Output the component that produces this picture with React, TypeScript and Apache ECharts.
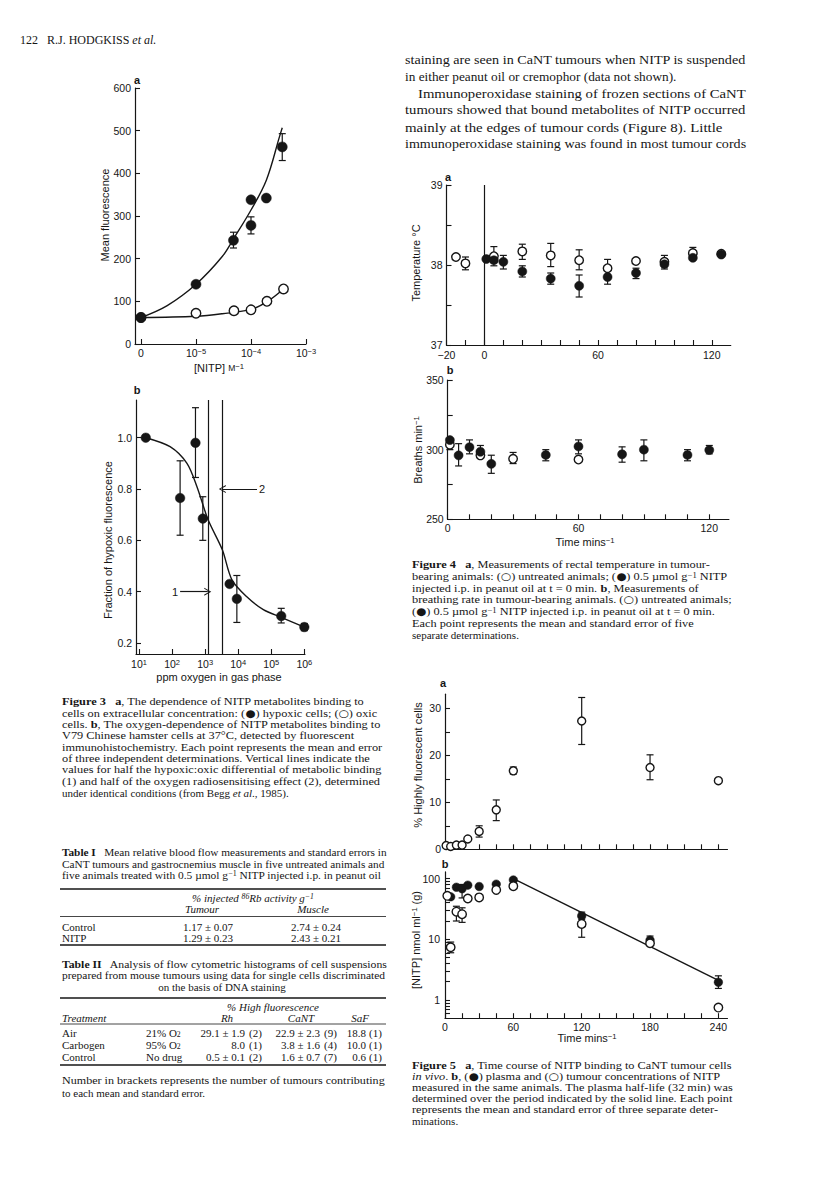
import React, { useEffect, useRef } from 'react';
import * as echarts from 'echarts';

const SERIF = '"Liberation Serif", "Times New Roman", Times, serif';
const SANS = '"Liberation Sans", Arial, Helvetica, sans-serif';
const INK = '#161616';

// ---------------- Figure 3a : mean fluorescence vs [NITP] ----------------
const f3aXTickConc = [0, 1e-5, 1e-4, 1e-3];
const f3aXTickLabels = ['0', '10{s|−5}', '10{s|−4}', '10{s|−3}'];
const f3aYTicks = [0, 100, 200, 300, 400, 500, 600];
const f3aHypoxicConc = [0, 1e-5, 4.8e-5, 1e-4, 1e-4, 1.9e-4, 3.7e-4];
const f3aHypoxicFluor = [62, 140, 243, 278, 338, 342, 462];
const f3aHypoxicErrLow = [null, null, 225, 258, null, null, 430];
const f3aHypoxicErrHigh = [null, null, 262, 298, null, null, 493];
const f3aOxicConc = [0, 1e-5, 4.9e-5, 1e-4, 1.95e-4, 3.9e-4];
const f3aOxicFluor = [62, 72, 78, 80, 100, 129];
const f3aHypoxicFitConc = [0, 3e-6, 1e-5, 3e-5, 5e-5, 1e-4, 1.9e-4, 3.3e-4, 3.7e-4];
const f3aHypoxicFitFluor = [62, 90, 140, 205, 250, 314, 384, 486, 507];
const f3aOxicFitConc = [0, 1e-5, 3e-5, 1e-4, 2e-4, 3.9e-4];
const f3aOxicFitFluor = [62, 65, 71, 81, 100, 129];

// ---------------- Figure 3b : fraction of hypoxic fluorescence vs ppm O2 ----------------
const f3bXTickPpm = [10, 100, 1e3, 1e4, 1e5, 1e6];
const f3bXTickLabels = ['10{s|1}', '10{s|2}', '10{s|3}', '10{s|4}', '10{s|5}', '10{s|6}'];
const f3bYTicks = [0.2, 0.4, 0.6, 0.8, 1.0];
const f3bPpm = [16, 175, 510, 850, 5500, 9100, 2.0e5, 1.0e6];
const f3bFrac = [1.0, 0.765, 0.98, 0.685, 0.43, 0.372, 0.305, 0.262];
const f3bErrLow = [null, 0.62, 0.845, 0.6, null, 0.28, 0.278, 0.248];
const f3bErrHigh = [null, 0.91, 1.117, 0.77, null, 0.463, 0.335, 0.276];
const f3bFitPpm = [16, 87, 282, 562, 1230, 3311, 6457, 18200, 57544, 2.0e5, 1.0e6];
const f3bFitFrac = [1.0, 0.965, 0.9, 0.81, 0.68, 0.563, 0.446, 0.38, 0.33, 0.3, 0.262];
const f3bHalfLinesPpm = [1200, 3311];
const f3bArrow1Ppm = [175, 1200];
const f3bArrow1Frac = 0.4;
const f3bArrow2Ppm = [37000, 3311];
const f3bArrow2Frac = 0.8;

// ---------------- Figure 4a : rectal temperature ----------------
const f4aXTicks = [-20, -10, 0, 10, 20, 30, 40, 50, 60, 70, 80, 90, 100, 110, 120];
const f4aXLabels = [-20, 0, 60, 120];
const f4aYTicks = [37, 37.5, 38, 38.5, 39];
const f4aYLabels = [37, 38, 39];
const f4aOpenT = [-15, -10, 5, 20, 35, 50, 65, 80, 95, 110, 125];
const f4aOpenTemp = [38.1, 38.02, 38.11, 38.17, 38.12, 38.06, 37.96, 38.05, 38.04, 38.15, 38.14];
const f4aOpenLow = [null, 37.94, 38.03, 38.07, 37.98, 37.94, 37.85, null, 37.98, 38.08, null];
const f4aOpenHigh = [null, 38.1, 38.23, 38.26, 38.27, 38.19, 38.07, null, 38.12, 38.22, null];
const f4aFilledT = [1, 5, 10, 20, 35, 50, 65, 80, 95, 110, 125];
const f4aFilledTemp = [38.075, 38.06, 38.04, 37.92, 37.83, 37.74, 37.85, 37.9, 38.01, 38.09, 38.13];
const f4aFilledLow = [null, 37.99, 37.95, 37.85, 37.76, 37.6, 37.76, 37.83, 37.95, null, null];
const f4aFilledHigh = [null, 38.13, 38.12, 37.99, 37.9, 37.875, 37.94, 37.96, 38.08, null, null];

// ---------------- Figure 4b : breathing rate ----------------
const f4bXTicks = [0, 10, 20, 30, 40, 50, 60, 70, 80, 90, 100, 110, 120];
const f4bXLabels = [0, 60, 120];
const f4bYTicks = [250, 275, 300, 325, 350];
const f4bYLabels = [250, 300, 350];
const f4bFilledT = [1, 5, 10, 15, 20, 45, 60, 80, 90, 110, 120];
const f4bFilledRate = [306.9, 295.9, 301.8, 298.5, 289.8, 296.2, 302.3, 296.7, 300, 296.2, 299.7];
const f4bFilledLow = [null, 288.3, 297, 294, 283, 292, 297, 291, 292, 292, 297];
const f4bFilledHigh = [null, 304.3, 307, 303, 296, 300, 307, 302, 307, 300, 303];
const f4bOpenT = [1, 15, 30, 60];
const f4bOpenRate = [303.6, 295.9, 293.4, 292.9];
const f4bOpenLow = [300, null, 290, null];
const f4bOpenHigh = [307, null, 298, null];

// ---------------- Figure 5a : % highly fluorescent cells ----------------
const f5XTicks = [0, 15, 30, 45, 60, 75, 90, 105, 120, 135, 150, 165, 180, 195, 210, 225, 240];
const f5XLabels = [0, 60, 120, 180, 240];
const f5aYTicks = [0, 5, 10, 15, 20, 25, 30];
const f5aYLabels = [0, 10, 20, 30];
const f5aT = [1, 5, 10, 15, 20, 30, 45, 60, 120, 180, 240];
const f5aPct = [0.8, 0.6, 0.9, 0.9, 2.2, 3.8, 8.4, 16.7, 27.3, 17.4, 14.6];
const f5aLow = [null, null, null, null, null, 2.6, 6.1, 16.0, 22.3, 14.8, null];
const f5aHigh = [null, null, null, null, null, 5.0, 10.5, 17.5, 32.3, 20.1, null];

// ---------------- Figure 5b : [NITP] plasma / tumour ----------------
const f5bYTickVals = [0.5, 0.6, 0.7, 0.8, 0.9, 1, 2, 3, 4, 5, 6, 7, 8, 9, 10, 20, 30, 40, 50, 60, 70, 80, 90, 100];
const f5bYLabels = [1, 10, 100];
const f5bPlasmaT = [5, 10, 15, 20, 30, 45, 60, 120, 180, 240];
const f5bPlasma = [50, 72, 68, 78, 74, 81, 95, 24.2, 9.7, 1.96];
const f5bPlasmaLow = [null, null, 48, null, null, null, null, 21, 8.7, 1.55];
const f5bPlasmaHigh = [null, null, 80, null, null, null, null, 28, 11.3, 2.5];
const f5bTumourT = [2, 5, 10, 15, 20, 30, 45, 60, 120, 180, 240];
const f5bTumour = [52, 7.4, 28.5, 25.9, 47, 49, 65, 75, 17.9, 8.6, 0.75];
const f5bTumourLow = [null, 6, 20, 19, null, null, null, null, 10.8, null, null];
const f5bTumourHigh = [null, 9, 35, 33, null, null, null, null, 25, null, null];
const f5bFitT = [60, 240];
const f5bFitConc = [100, 2.1];

// ---------------- Page texts ----------------
const headerPage = '122';
const headerAuthors = 'R.J. HODGKISS {i|et al.}';
const paraLines = [
  'staining are seen in CaNT tumours when NITP is suspended',
  'in either peanut oil or cremophor (data not shown).',
  'Immunoperoxidase staining of frozen sections of CaNT',
  'tumours showed that bound metabolites of NITP occurred',
  'mainly at the edges of tumour cords (Figure 8). Little',
  'immunoperoxidase staining was found in most tumour cords',
];
const fig3Caption = [
  '{b|Figure 3}   {b|a}, The dependence of NITP metabolites binding to',
  'cells on extracellular concentration: ({sym|●}) hypoxic cells; ({sym|○}) oxic',
  'cells. {b|b}, The oxygen-dependence of NITP metabolites binding to',
  'V79 Chinese hamster cells at 37°C, detected by fluorescent',
  'immunohistochemistry. Each point represents the mean and error',
  'of three independent determinations. Vertical lines indicate the',
  'values for half the hypoxic:oxic differential of metabolic binding',
  '(1) and half of the oxygen radiosensitising effect (2), determined',
  'under identical conditions (from Begg {i|et al}., 1985).',
];
const table1Title = [
  '{b|Table I}   Mean relative blood flow measurements and standard errors in',
  'CaNT tumours and gastrocnemius muscle in five untreated animals and',
  'five animals treated with 0.5 µmol g{sup|−1} NITP injected i.p. in peanut oil',
];
const table1Header = '{i|% injected }{isup|86}{i|Rb activity g}{isup|−1}';
const table1Cols = ['Tumour', 'Muscle'];
const table1Rows = [
  ['Control', '1.17 ± 0.07', '2.74 ± 0.24'],
  ['NITP', '1.29 ± 0.23', '2.43 ± 0.21'],
];
const table2Title = [
  '{b|Table II}   Analysis of flow cytometric histograms of cell suspensions',
  'prepared from mouse tumours using data for single cells discriminated',
  'on the basis of DNA staining',
];
const table2Header = '% High fluorescence';
const table2Cols = ['Treatment', 'Rh', 'CaNT', 'SaF'];
const table2Rows = [
  ['Air', '21% O{sub|2}', '29.1 ± 1.9', '(2)', '22.9 ± 2.3', '(9)', '18.8', '(1)'],
  ['Carbogen', '95% O{sub|2}', '8.0', '(1)', '3.8 ± 1.6', '(4)', '10.0', '(1)'],
  ['Control', 'No drug', '0.5 ± 0.1', '(2)', '1.6 ± 0.7', '(7)', '0.6', '(1)'],
];
const table2Note = [
  'Number in brackets represents the number of tumours contributing',
  'to each mean and standard error.',
];
const fig4Caption = [
  '{b|Figure 4}   {b|a}, Measurements of rectal temperature in tumour-',
  'bearing animals: ({sym|○}) untreated animals; ({sym|●}) 0.5 µmol g{sup|−1} NITP',
  'injected i.p. in peanut oil at t = 0 min. {b|b}, Measurements of',
  'breathing rate in tumour-bearing animals. ({sym|○}) untreated animals;',
  '({sym|●}) 0.5 µmol g{sup|−1} NITP injected i.p. in peanut oil at t = 0 min.',
  'Each point represents the mean and standard error of five',
  'separate determinations.',
];
const fig5Caption = [
  '{b|Figure 5}   {b|a}, Time course of NITP binding to CaNT tumour cells',
  '{i|in vivo}. {b|b}, ({sym|●}) plasma and ({sym|○}) tumour concentrations of NITP',
  'measured in the same animals. The plasma half-life (32 min) was',
  'determined over the period indicated by the solid line. Each point',
  'represents the mean and standard error of three separate deter-',
  'minations.',
];

// ---------------- helpers ----------------
const lg = (v: number) => Math.log10(v);
const pos3a = (c: number) => (c <= 0 ? 0 : Math.log10(c) + 6);
const ident = (v: number) => v;
function zip(xs: number[], ys: number[], fx = ident, fy = ident) {
  return xs.map((x, i) => [fx(x), fy(ys[i])]);
}
function errData(xs: number[], lo: (number | null)[], hi: (number | null)[], fx = ident, fy = ident) {
  const out: number[][] = [];
  xs.forEach((x, i) => {
    if (lo[i] != null && hi[i] != null) out.push([fx(x), fy(lo[i] as number), fy(hi[i] as number)]);
  });
  return out;
}

let measureCtx: CanvasRenderingContext2D | null = null;
function measure(text: string, size: number, family: string, weight = 'normal') {
  if (!measureCtx) measureCtx = document.createElement('canvas').getContext('2d');
  if (!measureCtx) return 0;
  measureCtx.font = `${weight} ${size}px ${family}`;
  return measureCtx.measureText(text).width;
}
const plain = (s: string) => s.replace(/\{(\w+)\|([^}]*)\}/g, '$2');

function richFor(size: number, family = SERIF) {
  return {
    b: { fontFamily: family, fontSize: size, fontWeight: 'bold', fill: INK },
    i: { fontFamily: family, fontSize: size, fontStyle: 'italic', fill: INK },
    sup: { fontFamily: family, fontSize: size * 0.7, verticalAlign: 'top', fill: INK },
    isup: { fontFamily: family, fontSize: size * 0.7, fontStyle: 'italic', verticalAlign: 'top', fill: INK },
    sub: { fontFamily: family, fontSize: size * 0.7, verticalAlign: 'bottom', fill: INK },
    sym: { fontFamily: '"DejaVu Sans", sans-serif', fontSize: size * 0.95, fill: INK },
    sc: { fontFamily: SANS, fontSize: size * 0.78, fill: INK },
  };
}

type TOpts = {
  size?: number;
  family?: string;
  align?: 'left' | 'center' | 'right';
  weight?: string;
  italic?: boolean;
  justify?: number;
  rotate?: boolean;
};
function T(x: number, y: number, text: string, o: TOpts = {}) {
  const size = o.size ?? 11;
  const family = o.family ?? SERIF;
  const align = o.align ?? 'left';
  let scaleX = 1;
  if (o.justify) {
    const w = measure(plain(text), size, family, o.weight ?? 'normal');
    if (w > 0) scaleX = Math.max(0.9, Math.min(1.12, o.justify / w));
  }
  return {
    type: 'text',
    x,
    y,
    scaleX,
    rotation: o.rotate ? Math.PI / 2 : 0,
    silent: true,
    z: 50,
    style: {
      text,
      fontSize: size,
      fontFamily: family,
      fontWeight: o.weight ?? 'normal',
      fontStyle: o.italic ? 'italic' : 'normal',
      fill: INK,
      align,
      textAlign: align,
      verticalAlign: 'middle',
      textVerticalAlign: 'middle',
      rich: richFor(size, family),
    },
  };
}
function L(x1: number, y1: number, x2: number, y2: number, w = 1) {
  return { type: 'line', silent: true, z: 50, shape: { x1, y1, x2, y2 }, style: { stroke: INK, lineWidth: w } };
}

const AX_LINE = { show: true, onZero: false, lineStyle: { color: INK, width: 1.2 } };
const supRich = { s: { fontFamily: SANS, fontSize: 7.5, verticalAlign: 'top', color: INK, padding: [0, 0, 4, 0] } };
function axis(
  gridIndex: number,
  min: number,
  max: number,
  ticks: number[],
  labels: number[] | null,
  fmt?: (v: number) => string,
  margin = 4,
  tickInside = true,
) {
  return {
    type: 'value',
    gridIndex,
    min,
    max,
    axisLine: AX_LINE,
    splitLine: { show: false },
    axisTick: { show: true, inside: tickInside, length: 5, customValues: ticks, lineStyle: { color: INK, width: 1.1 } },
    axisLabel: labels
      ? {
          show: true,
          customValues: labels,
          formatter: fmt,
          color: INK,
          fontFamily: SANS,
          fontSize: 10.5,
          margin,
          rich: supRich,
        }
      : { show: false },
  };
}
const near = (a: number, b: number) => Math.abs(a - b) < 1e-6;

function errSeries(ai: number, data: number[][], cap = 3.5, z = 3) {
  return {
    type: 'custom',
    coordinateSystem: 'cartesian2d',
    xAxisIndex: ai,
    yAxisIndex: ai,
    data,
    encode: { x: 0, y: [1, 2] },
    z,
    silent: true,
    clip: false,
    renderItem: (_p: any, api: any) => {
      const x = api.value(0);
      const a = api.coord([x, api.value(1)]);
      const b = api.coord([x, api.value(2)]);
      const st = { stroke: INK, lineWidth: 1.2 };
      return {
        type: 'group',
        children: [
          { type: 'line', shape: { x1: a[0], y1: a[1], x2: b[0], y2: b[1] }, style: st },
          { type: 'line', shape: { x1: a[0] - cap, y1: a[1], x2: a[0] + cap, y2: a[1] }, style: st },
          { type: 'line', shape: { x1: b[0] - cap, y1: b[1], x2: b[0] + cap, y2: b[1] }, style: st },
        ],
      };
    },
  };
}
function dots(ai: number, data: number[][], filled: boolean, size: number, z: number, extra: any = {}) {
  return {
    type: 'scatter',
    xAxisIndex: ai,
    yAxisIndex: ai,
    data,
    symbol: 'circle',
    symbolSize: size,
    clip: false,
    silent: true,
    z,
    itemStyle: filled
      ? { color: INK, borderColor: INK, borderWidth: 0.5, opacity: 1 }
      : { color: '#ffffff', borderColor: INK, borderWidth: 1.4, opacity: 1 },
    ...extra,
  };
}
function curve(ai: number, data: number[][], smooth: boolean | number, z = 2, extra: any = {}) {
  return {
    type: 'line',
    xAxisIndex: ai,
    yAxisIndex: ai,
    data,
    smooth,
    showSymbol: false,
    symbol: 'none',
    silent: true,
    z,
    lineStyle: { color: INK, width: 1.4 },
    ...extra,
  };
}

const CHEVRON = 'path://M0,10 L5,0 L10,10 L8.6,10 L5,2.6 L1.4,10 Z';

function buildOption() {
  const grid = [
    { left: 135, top: 88, width: 171, height: 256 }, // 3a
    { left: 136, top: 400, width: 169, height: 254 }, // 3b
    { left: 446.5, top: 185, width: 284.25, height: 160 }, // 4a
    { left: 447.7, top: 380, width: 281.2, height: 139.3 }, // 4b
    { left: 445, top: 694.2, width: 282.5, height: 155.1 }, // 5a
    { left: 445, top: 871.9, width: 282.5, height: 146.3 }, // 5b
  ];

  const f3aXPos = f3aXTickConc.map(pos3a);
  const f3bXPos = f3bXTickPpm.map(lg);
  const f5bTickPos = f5bYTickVals.map(lg);
  const f5bLabelPos = f5bYLabels.map(lg);

  const xAxis = [
    axis(0, -0.109, 3, f3aXPos, f3aXPos, (v) => f3aXTickLabels[f3aXPos.findIndex((p) => near(p, v))] ?? '', 3),
    axis(1, 0.909, 6.02, f3bXPos, f3bXPos, (v) => f3bXTickLabels[f3bXPos.findIndex((p) => near(p, v))] ?? '', 4),
    axis(2, -20, 130, f4aXTicks, f4aXLabels, (v) => (v < 0 ? '−' + Math.abs(v) : String(v)), 4),
    axis(3, 0, 129, f4bXTicks, f4bXLabels, (v) => String(v), 3),
    axis(4, 0, 248, f5XTicks, null),
    axis(5, 0, 248, f5XTicks, f5XLabels, (v) => String(v), 3),
  ];
  const yAxis = [
    axis(0, 0, 600, f3aYTicks, f3aYTicks, (v) => String(v), 4),
    axis(1, 0.157, 1.147, f3bYTicks, f3bYTicks, (v) => v.toFixed(1), 4),
    axis(2, 37, 39, f4aYTicks, f4aYLabels, (v) => String(v), 4),
    axis(3, 250, 350, f4bYTicks, f4bYLabels, (v) => String(v), 4),
    axis(4, 0, 33, f5aYTicks, f5aYLabels, (v) => String(v), 4),
    axis(5, -0.3, 2.11, f5bTickPos, f5bLabelPos, (v) => String(Math.round(Math.pow(10, v))), 5),
  ];

  const mlBase = {
    silent: true,
    animation: false,
    label: { show: false },
    emphasis: { disabled: true },
    lineStyle: { color: INK, width: 1.2, type: 'solid' },
  };

  const series: any[] = [
    // ---- 3a ----
    curve(0, zip(f3aHypoxicFitConc, f3aHypoxicFitFluor, pos3a), 0.35),
    curve(0, zip(f3aOxicFitConc, f3aOxicFitFluor, pos3a), 0.35),
    errSeries(0, errData(f3aHypoxicConc, f3aHypoxicErrLow, f3aHypoxicErrHigh, pos3a)),
    dots(0, zip(f3aOxicConc, f3aOxicFluor, pos3a), false, 9.5, 5),
    dots(0, zip(f3aHypoxicConc, f3aHypoxicFluor, pos3a), true, 10, 6),
    // ---- 3b ----
    curve(1, zip(f3bFitPpm, f3bFitFrac, lg), 0.3, 2, {
      markLine: {
        ...mlBase,
        symbol: ['none', 'none'],
        data: [
          { xAxis: lg(f3bHalfLinesPpm[0]) },
          { xAxis: lg(f3bHalfLinesPpm[1]) },
          [
            { coord: [lg(f3bArrow1Ppm[0]), f3bArrow1Frac], symbol: 'none' },
            { coord: [lg(f3bArrow1Ppm[1]), f3bArrow1Frac], symbol: CHEVRON, symbolSize: [8, 7] },
          ],
          [
            { coord: [lg(f3bArrow2Ppm[0]), f3bArrow2Frac], symbol: 'none' },
            { coord: [lg(f3bArrow2Ppm[1]), f3bArrow2Frac], symbol: CHEVRON, symbolSize: [8, 7] },
          ],
        ],
      },
    }),
    errSeries(1, errData(f3bPpm, f3bErrLow, f3bErrHigh, lg)),
    dots(1, zip(f3bPpm, f3bFrac, lg), true, 9.5, 6),
    // ---- 4a ----
    errSeries(2, errData(f4aOpenT, f4aOpenLow, f4aOpenHigh), 3.5, 3),
    errSeries(2, errData(f4aFilledT, f4aFilledLow, f4aFilledHigh), 3.5, 3),
    dots(2, zip(f4aOpenT, f4aOpenTemp), false, 8.5, 5, {
      markLine: { ...mlBase, symbol: ['none', 'none'], data: [{ xAxis: 0 }] },
    }),
    dots(2, zip(f4aFilledT, f4aFilledTemp), true, 9, 6),
    // ---- 4b ----
    errSeries(3, errData(f4bOpenT, f4bOpenLow, f4bOpenHigh), 3.5, 3),
    errSeries(3, errData(f4bFilledT, f4bFilledLow, f4bFilledHigh), 3.5, 3),
    dots(3, zip(f4bOpenT, f4bOpenRate), false, 8.5, 5),
    dots(3, zip(f4bFilledT, f4bFilledRate), true, 9, 6),
    // ---- 5a ----
    errSeries(4, errData(f5aT, f5aLow, f5aHigh), 3.5, 3),
    dots(4, zip(f5aT, f5aPct), false, 8, 5),
    // ---- 5b ----
    curve(5, zip(f5bFitT, f5bFitConc, ident, lg), false, 2),
    errSeries(5, errData(f5bPlasmaT, f5bPlasmaLow, f5bPlasmaHigh, ident, lg), 3.5, 3),
    errSeries(5, errData(f5bTumourT, f5bTumourLow, f5bTumourHigh, ident, lg), 3.5, 3),
    dots(5, zip(f5bPlasmaT, f5bPlasma, ident, lg), true, 8.5, 5),
    dots(5, zip(f5bTumourT, f5bTumour, ident, lg), false, 8.5, 6),
  ];

  // ---- page texts ----
  const g: any[] = [];
  g.push(T(20, 40, headerPage, { size: 12 }));
  g.push(T(47, 40, headerAuthors, { size: 12 }));

  const paraY = [60, 76.7, 93.4, 110.1, 126.8, 143.5];
  paraLines.forEach((s, i) => {
    const x = i === 2 ? 418 : 405;
    const justify = i === 1 ? undefined : 746 - x;
    g.push(T(x, paraY[i], s, { size: 13.3, justify }));
  });

  fig3Caption.forEach((s, i) => {
    g.push(T(62, 702 + 11.33 * i, s, { size: 11, justify: i === fig3Caption.length - 1 ? undefined : 323 }));
  });

  // Table I
  table1Title.forEach((s, i) => g.push(T(62, 852 + 11.6 * i, s, { size: 11, justify: 323 })));
  g.push(L(60, 889, 386, 889, 1.4));
  g.push(T(253, 898, table1Header, { size: 11, align: 'center' }));
  g.push(T(202, 909, table1Cols[0], { size: 11, align: 'center', italic: true }));
  g.push(T(313, 909, table1Cols[1], { size: 11, align: 'center', italic: true }));
  g.push(L(60, 916.5, 386, 916.5, 0.8));
  table1Rows.forEach((r, i) => {
    const y = 927 + 10.5 * i;
    g.push(T(62, y, r[0], { size: 11 }));
    g.push(T(183, y, r[1], { size: 11 }));
    g.push(T(291, y, r[2], { size: 11 }));
  });
  g.push(L(60, 945, 386, 945, 1.4));

  // Table II
  g.push(T(62, 964, table2Title[0], { size: 11, justify: 323 }));
  g.push(T(62, 975.5, table2Title[1], { size: 11, justify: 323 }));
  g.push(T(222, 987, table2Title[2], { size: 11, align: 'center' }));
  g.push(L(60, 998, 386, 998, 1.4));
  g.push(T(273, 1006.5, table2Header, { size: 11, align: 'center', italic: true }));
  g.push(T(62, 1017.5, table2Cols[0], { size: 11, italic: true }));
  g.push(T(227, 1017.5, table2Cols[1], { size: 11, align: 'center', italic: true }));
  g.push(T(301, 1017.5, table2Cols[2], { size: 11, align: 'center', italic: true }));
  g.push(T(360, 1017.5, table2Cols[3], { size: 11, align: 'center', italic: true }));
  g.push(L(60, 1024, 386, 1024, 0.8));
  table2Rows.forEach((r, i) => {
    const y = 1033 + 12 * i;
    g.push(T(62, y, r[0], { size: 11 }));
    g.push(T(146, y, r[1], { size: 11 }));
    g.push(T(245, y, r[2], { size: 11, align: 'right' }));
    g.push(T(249, y, r[3], { size: 11 }));
    g.push(T(320, y, r[4], { size: 11, align: 'right' }));
    g.push(T(324, y, r[5], { size: 11 }));
    g.push(T(366, y, r[6], { size: 11, align: 'right' }));
    g.push(T(369, y, r[7], { size: 11 }));
  });
  g.push(L(60, 1065, 386, 1065, 1.4));
  g.push(T(62, 1080.5, table2Note[0], { size: 11, justify: 323 }));
  g.push(T(62, 1092.5, table2Note[1], { size: 11 }));

  fig4Caption.forEach((s, i) => {
    g.push(T(412, 565 + 11.67 * i, s, { size: 11, justify: i === fig4Caption.length - 1 ? undefined : 323 }));
  });
  fig5Caption.forEach((s, i) => {
    g.push(T(412, 1066 + 11.05 * i, s, { size: 11, justify: i === fig5Caption.length - 1 ? undefined : 321 }));
  });

  // ---- figure annotations ----
  const lab = (x: number, y: number, s: string, extra: TOpts = {}) =>
    T(x, y, s, { size: 11, family: SANS, ...extra });
  g.push(lab(137, 80, 'a', { weight: 'bold', align: 'center' }));
  g.push(lab(105, 215, 'Mean fluorescence', { rotate: true, align: 'center' }));
  g.push(lab(219, 368, '[NITP] {sc|M}{sup|−1}', { align: 'center' }));
  g.push(lab(137, 390, 'b', { weight: 'bold', align: 'center' }));
  g.push(lab(108, 540, 'Fraction of hypoxic fluorescence', { rotate: true, align: 'center' }));
  g.push(lab(219, 677, 'ppm oxygen in gas phase', { align: 'center' }));
  g.push(lab(175, 592, '1', { align: 'center' }));
  g.push(lab(262, 489, '2', { align: 'center' }));

  g.push(lab(448, 177, 'a', { weight: 'bold', align: 'center' }));
  g.push(lab(416, 263, 'Temperature °C', { rotate: true, align: 'center' }));
  g.push(lab(450, 370, 'b', { weight: 'bold', align: 'center' }));
  g.push(lab(418, 450, 'Breaths min{sup|−1}', { rotate: true, align: 'center' }));
  g.push(lab(585, 542, 'Time mins{sup|−1}', { align: 'center' }));

  g.push(lab(443, 683, 'a', { weight: 'bold', align: 'center' }));
  g.push(lab(418, 765, '% Highly fluorescent cells', { rotate: true, align: 'center' }));
  g.push(lab(445, 864, 'b', { weight: 'bold', align: 'center' }));
  g.push(lab(416, 940, '[NITP] nmol ml{sup|−1} (g)', { rotate: true, align: 'center' }));
  g.push(lab(587, 1038, 'Time mins{sup|−1}', { align: 'center' }));

  return {
    animation: false,
    backgroundColor: '#ffffff',
    grid,
    xAxis,
    yAxis,
    series,
    graphic: { elements: g },
  };
}

export default function App() {
  const ref = useRef<HTMLDivElement>(null);
  useEffect(() => {
    const el = ref.current;
    if (!el) return;
    const chart = echarts.init(el, null, { renderer: 'svg' });
    chart.setOption(buildOption() as any);
    return () => chart.dispose();
  }, []);
  return (
    <div
      ref={ref}
      style={{ position: 'absolute', left: 0, top: 0, width: 816, height: 1194, background: '#ffffff' }}
    />
  );
}
